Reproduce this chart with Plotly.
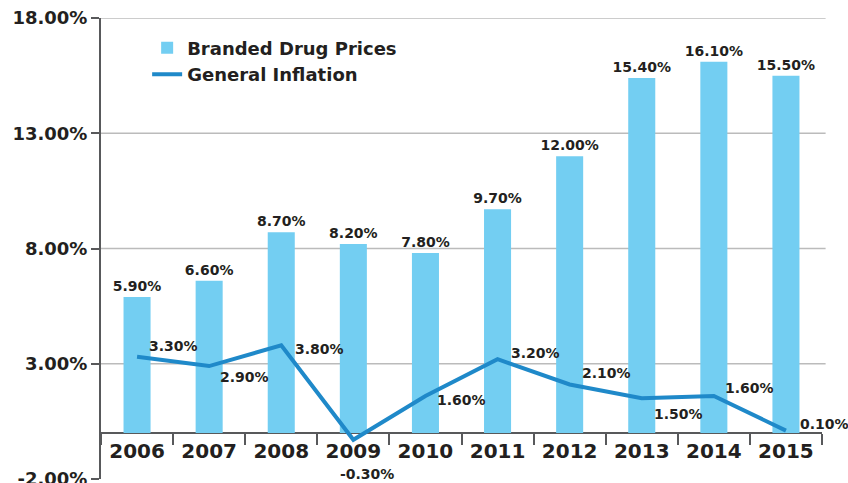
import plotly.graph_objects as go

# Annual price growth, branded drugs vs. general inflation (percent)
years = ["2006", "2007", "2008", "2009", "2010", "2011", "2012", "2013", "2014", "2015"]
drug_prices = [5.9, 6.6, 8.7, 8.2, 7.8, 9.7, 12.0, 15.4, 16.1, 15.5]
inflation = [3.3, 2.9, 3.8, -0.3, 1.6, 3.2, 2.1, 1.5, 1.6, 0.1]
y_ticks = [-2, 3, 8, 13, 18]

# pixel offsets for each inflation label relative to its point
infl_label_shift = [(36, 11), (35, -11), (38, -4), (14, -34), (36, -4),
                    (38, 6), (37, 12), (37, -16), (36, 8), (39, 7)]

BAR = "#73CEF2"
LINE = "#1F89C9"
INK = "#231F20"
FONT = "DejaVu Sans"

fig = go.Figure()
fig.add_trace(go.Bar(
    x=years, y=drug_prices, name="Branded Drug Prices",
    marker=dict(color=BAR, line=dict(width=0)), width=0.375,
    text=[f"{v:.2f}%" for v in drug_prices], textposition="outside",
    constraintext="none",
    textfont=dict(family=FONT, size=14, color=INK, weight="bold"),
    cliponaxis=False,
))
fig.add_trace(go.Scatter(
    x=years, y=inflation, name="General Inflation", mode="lines",
    line=dict(color=LINE, width=4), cliponaxis=False,
))

# labels placed by category index so the year strings aren't read as numbers
for i, (v, (dx, dy)) in enumerate(zip(inflation, infl_label_shift)):
    fig.add_annotation(x=i, y=v, text=f"{v:.2f}%", showarrow=False,
                       xshift=dx, yshift=dy,
                       font=dict(family=FONT, size=14, color=INK, weight="bold"))

# horizontal grid lines (none at the bottom edge)
for t in y_ticks[1:]:
    fig.add_shape(type="line", xref="paper", yref="y", x0=0, x1=1.005, y0=t, y1=t,
                  line=dict(color="#BBBBBB", width=1.5), layer="below")

fig.update_layout(
    width=848, height=483,
    margin=dict(l=101, r=26, t=18, b=4),
    paper_bgcolor="white", plot_bgcolor="white",
    showlegend=True,
    legend=dict(x=0.064, y=0.975, xanchor="left", yanchor="top",
                bgcolor="rgba(0,0,0,0)",
                font=dict(family=FONT, size=18, color=INK, weight="bold"),
                tracegroupgap=0, itemwidth=30),
)
fig.update_xaxes(
    type="category", range=[-0.5, len(years) - 0.5], automargin=False,
    anchor="free", position=0.1,
    showline=True, linecolor="#58595B", linewidth=2,
    ticks="outside", tickson="boundaries", ticklen=11, tickwidth=1.5, tickcolor="#58595B",
    tickfont=dict(family=FONT, size=20, color=INK, weight="bold"), tickangle=0,
    showgrid=False, layer="below traces",
)
fig.update_yaxes(
    range=[-2, 18], automargin=False, ticklabeloverflow="allow",
    tickvals=y_ticks, ticktext=[f"{t:.2f}%" for t in y_ticks],
    showline=True, linecolor="#58595B", linewidth=2,
    ticks="outside", ticklen=8, tickwidth=1.5, tickcolor="#58595B",
    tickfont=dict(family=FONT, size=18, color=INK, weight="bold"),
    showgrid=False, zeroline=False,
)

fig.write_html("out.html")
